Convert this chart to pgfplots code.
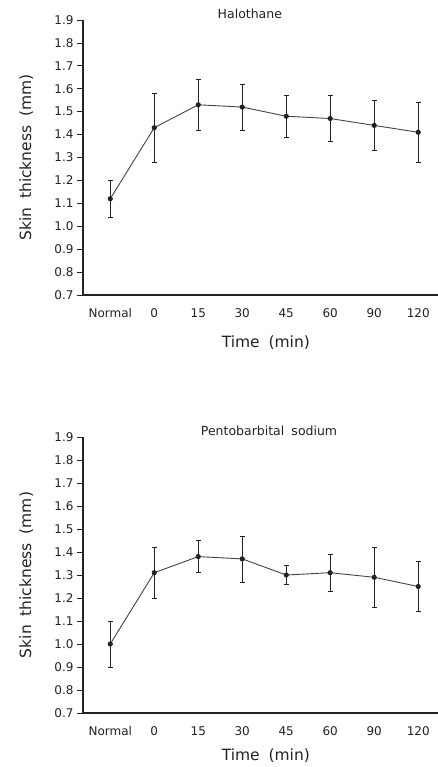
\documentclass[border=0pt]{standalone}
\usepackage{pgfplots}
\pgfplotsset{compat=1.18}
\usepackage{fontspec}
\setmainfont[WordSpace=1.8]{DejaVu Sans}
\definecolor{ink}{HTML}{222222}
\definecolor{linegray}{HTML}{444444}

\begin{document}
\begin{tikzpicture}
\useasboundingbox (0pt,0pt) rectangle (438pt,767pt);
\pgfplotsset{
  skin/.style={
    scale only axis,
    width=355pt,height=275pt,
    xmin=-0.62,xmax=7.45,
    ymin=0.7,ymax=1.9,
    axis x line=bottom,axis y line=left,
    axis line style={-,line width=1.4pt,ink},
    xtick={0,1,2,3,4,5,6,7},
    xticklabels={Normal,0,15,30,45,60,90,120},
    xtick style={draw=none},
    ytick={0.7,0.8,0.9,1.0,1.1,1.2,1.3,1.4,1.5,1.6,1.7,1.8,1.9},
    ytick style={line width=0.8pt,ink},
    tick align=outside,
    major tick length=6pt,
    yticklabel style={/pgf/number format/.cd,fixed,fixed zerofill,precision=1},
    /pgf/number format/assume math mode=true,
    ticklabel style={font=\fontsize{12}{14}\selectfont,text=ink},
    xticklabel style={anchor=center,yshift=-12pt},
    ylabel={Skin thickness (mm)},
    ylabel style={font=\fontsize{15.5}{18}\selectfont,text=ink},
    xlabel={Time (min)},
    xlabel style={font=\fontsize{15.5}{18}\selectfont,text=ink,anchor=center},
    title style={font=\fontsize{12.5}{14}\selectfont,text=ink,anchor=base,yshift=-5pt},
  },
  series/.style={
    line width=0.9pt,linegray,
    mark=*,mark size=2.1pt,mark options={fill=ink,draw=ink},
    error bars/.cd,y dir=both,y explicit,
    error bar style={line width=0.7pt,ink},
    error mark options={rotate=90,mark size=2.5pt,line width=0.7pt,ink},
  },
}

% Halothane
\begin{axis}[skin,
  at={(83pt,472pt)},
  title={Halothane},
  title style={at={(axis description cs:0.47,1)}},
  ylabel style={at={(axis description cs:-0.16,0.5)},anchor=center},
  xlabel style={at={(axis description cs:0.515,-0.172)}},
]
\addplot[series] coordinates {
  (0,1.12) +- (0,0.08)
  (1,1.43) +- (0,0.15)
  (2,1.53) +- (0,0.11)
  (3,1.52) +- (0,0.10)
  (4,1.48) +- (0,0.09)
  (5,1.47) +- (0,0.10)
  (6,1.44) +- (0,0.11)
  (7,1.41) +- (0,0.13)
};
\end{axis}

% Pentobarbital sodium
\begin{axis}[skin,
  at={(83pt,54pt)},height=276pt,
  title={Pentobarbital sodium},
  title style={at={(axis description cs:0.524,1)}},
  ylabel style={at={(axis description cs:-0.16,0.5)},anchor=center},
  xlabel style={at={(axis description cs:0.515,-0.155)}},
]
\addplot[series] coordinates {
  (0,1.00) +- (0,0.10)
  (1,1.31) +- (0,0.11)
  (2,1.38) +- (0,0.07)
  (3,1.37) +- (0,0.10)
  (4,1.30) +- (0,0.04)
  (5,1.31) +- (0,0.08)
  (6,1.29) +- (0,0.13)
  (7,1.25) +- (0,0.11)
};
\end{axis}
\end{tikzpicture}
\end{document}
